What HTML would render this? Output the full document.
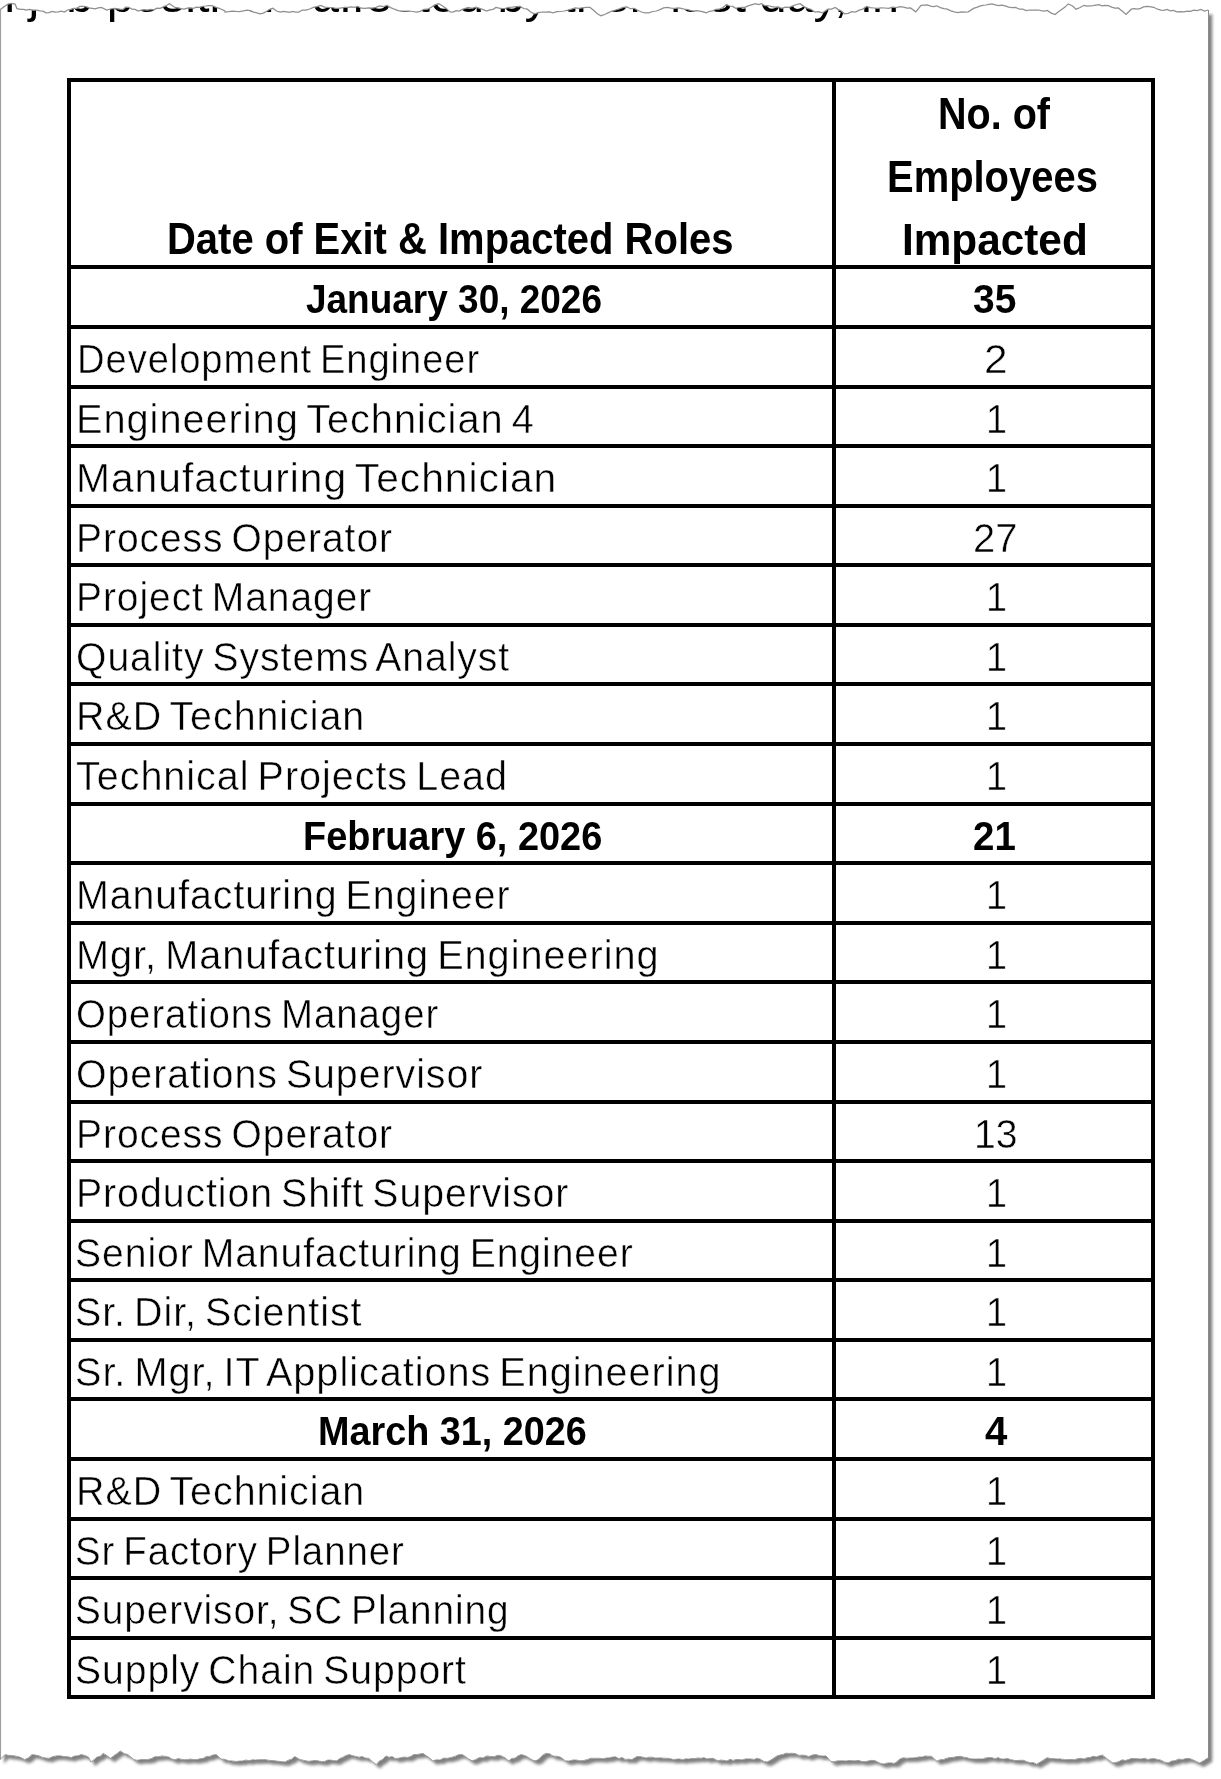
<!DOCTYPE html>
<html><head><meta charset="utf-8">
<style>
html,body{margin:0;padding:0;background:#fff;width:1221px;height:1779px;overflow:hidden}
body{position:relative;font-family:"Liberation Sans",sans-serif;color:#000}
.ln{position:absolute;background:#000}
.t{position:absolute;white-space:nowrap;line-height:1;transform-origin:0 0;color:#000}
</style></head><body>
<svg width="1221" height="1779" style="position:absolute;left:0;top:0">
<defs><filter id="sh" x="-5%" y="-5%" width="110%" height="110%"><feGaussianBlur in="SourceAlpha" stdDeviation="1.6"/><feOffset dx="4" dy="4" result="o"/><feComponentTransfer><feFuncA type="linear" slope="0.5"/></feComponentTransfer><feMerge><feMergeNode/><feMergeNode in="SourceGraphic"/></feMerge></filter></defs>
<polygon points="0.0,9.8 4.0,6.7 8.0,4.1 11.5,3.5 15.0,4.1 17.0,8.6 20.5,9.3 24.0,9.4 25.8,10.1 29.5,9.4 33.1,10.2 36.8,10.1 39.9,10.8 43.0,11.2 46.0,12.9 49.1,12.6 52.2,11.4 55.2,12.0 58.3,11.9 61.4,11.2 64.5,12.0 67.5,10.0 70.6,9.4 73.7,8.3 76.7,8.3 79.8,6.4 82.9,6.4 85.9,6.6 89.0,7.9 92.1,8.3 95.2,8.8 98.2,7.8 101.3,7.4 106.8,10.1 110.5,9.0 114.2,8.3 119.7,9.2 122.8,9.5 125.8,7.2 128.9,7.4 132.0,9.2 135.1,9.4 138.1,11.0 141.2,10.1 144.3,9.7 147.3,10.1 150.6,9.3 153.8,9.8 157.0,8.2 160.2,8.3 163.3,6.9 166.4,5.5 169.4,3.7 175.0,7.4 178.0,7.8 181.1,8.7 184.2,9.2 187.2,8.1 190.3,7.8 193.4,8.3 196.4,7.1 199.5,7.4 202.6,6.4 205.6,6.0 208.7,5.5 211.8,5.5 215.5,7.1 219.2,8.3 224.9,11.0 225.0,12.0 228.7,11.7 232.4,11.2 236.0,11.4 239.7,11.5 243.4,10.9 247.1,10.1 250.3,10.6 253.5,12.1 256.8,12.9 260.0,13.8 263.2,13.1 266.4,11.5 269.7,9.3 272.9,8.3 276.6,11.0 280.2,12.0 283.3,11.3 286.4,11.8 289.5,12.4 292.5,11.3 295.6,12.0 298.7,12.0 302.3,10.0 306.0,10.0 309.7,9.0 313.4,7.4 317.1,6.6 320.8,5.5 324.4,7.1 328.1,7.4 331.8,7.5 335.5,8.3 338.6,8.3 341.6,7.8 344.7,7.4 347.9,7.3 351.2,6.8 354.4,7.3 357.6,6.4 361.3,8.2 365.0,8.3 368.6,7.9 372.3,8.0 376.0,7.4 379.7,6.0 383.4,6.5 387.1,5.5 390.7,7.6 394.4,9.2 398.1,10.7 401.8,11.0 405.5,11.0 409.2,11.0 412.8,11.5 416.5,12.0 420.2,11.4 423.9,9.3 427.6,9.2 431.3,7.3 434.9,4.9 438.6,3.7 442.4,5.8 446.2,8.4 450.0,12.0 453.1,12.1 456.1,10.7 459.2,11.0 462.3,9.4 465.3,8.4 468.4,7.4 472.1,8.3 475.8,7.2 479.5,8.3 483.1,9.6 486.8,11.0 489.9,9.9 493.0,9.3 496.0,7.4 499.1,8.2 502.2,8.6 505.2,8.3 508.9,7.4 512.6,7.2 516.3,6.7 520.0,6.4 523.7,8.5 527.3,9.2 531.0,12.3 534.7,13.8 538.4,12.6 542.1,12.0 545.8,12.0 549.4,11.9 553.1,12.9 556.8,11.7 560.5,11.5 564.2,11.0 567.9,10.1 571.5,9.1 575.2,8.0 578.9,8.3 582.6,7.8 586.3,7.4 590.0,7.4 593.6,10.2 597.3,13.7 601.0,15.7 604.7,14.5 608.4,12.6 612.1,11.0 615.7,10.0 619.4,8.9 623.1,7.4 626.8,6.9 630.5,8.7 634.2,8.3 637.8,10.3 641.5,12.0 645.2,12.9 648.9,12.8 652.6,11.5 656.3,11.0 659.9,9.6 663.6,7.9 667.3,7.4 671.2,8.1 675.0,8.3 678.1,8.0 681.1,8.4 684.2,9.1 687.3,9.5 690.3,10.3 693.4,11.0 696.6,10.7 699.9,11.1 703.1,11.8 706.3,12.9 709.5,11.3 712.8,10.8 716.0,9.3 719.2,9.2 722.9,7.6 726.6,4.6 729.6,6.0 732.7,6.4 735.8,8.3 738.8,7.5 741.9,7.4 745.0,7.4 748.7,5.7 752.3,4.6 755.4,3.6 758.5,4.6 761.6,3.7 764.6,5.5 767.7,5.5 770.8,6.4 774.4,7.0 778.1,6.9 781.8,8.3 785.5,7.1 789.2,7.4 792.9,5.9 796.5,4.5 800.2,3.7 803.9,6.6 807.6,8.3 811.3,9.5 815.0,12.0 818.6,11.6 822.3,12.9 827.9,9.2 831.5,9.1 835.2,7.4 838.3,9.6 841.4,11.0 844.4,13.8 848.1,13.3 851.8,11.7 855.5,12.0 859.2,10.2 862.8,9.1 866.5,6.4 870.2,7.7 873.9,8.0 877.6,8.3 881.3,7.9 884.9,8.0 888.6,8.3 892.4,7.1 896.2,7.6 900.0,6.6 903.5,7.1 907.0,8.0 910.5,7.9 915.8,11.8 921.0,5.3 924.2,5.1 927.3,5.0 930.5,6.1 933.6,6.6 936.8,5.8 940.3,7.6 943.8,8.6 947.3,9.2 950.8,10.9 954.3,11.9 957.8,12.6 961.3,11.9 964.8,12.1 968.3,11.8 973.6,8.4 976.7,7.4 979.7,6.1 982.8,5.3 985.9,5.0 988.9,4.3 992.0,3.9 995.3,4.8 998.6,5.7 1001.9,5.2 1005.2,5.8 1008.7,7.1 1012.2,7.7 1015.7,7.4 1019.2,9.2 1022.7,9.2 1026.2,10.5 1029.2,10.0 1032.2,10.0 1035.2,10.0 1038.2,10.0 1041.2,10.7 1044.2,11.2 1047.2,10.5 1051.2,13.1 1055.1,14.5 1058.4,11.8 1061.7,9.5 1065.0,7.1 1068.2,3.9 1072.2,5.8 1076.1,9.2 1080.1,7.5 1084.0,5.3 1087.0,6.0 1090.0,5.8 1093.0,5.7 1096.0,5.2 1099.0,4.7 1102.0,5.8 1105.0,5.3 1108.3,5.6 1111.6,7.1 1114.9,8.1 1118.2,7.9 1122.1,11.0 1126.1,14.5 1131.3,9.2 1134.4,8.6 1137.5,9.1 1140.5,8.3 1143.6,6.9 1146.7,6.3 1149.7,6.6 1153.7,7.3 1157.6,9.2 1160.8,10.2 1163.9,10.3 1167.1,9.4 1170.2,10.9 1173.4,10.5 1176.9,11.8 1180.4,11.7 1183.9,11.8 1187.2,11.2 1190.5,11.3 1193.8,10.2 1197.1,10.5 1200.8,9.5 1204.5,11.0 1208.2,10.0 1208.2,1757.7 1203.9,1760.6 1199.7,1762.9 1196.2,1761.4 1192.7,1759.7 1189.2,1758.5 1185.7,1758.6 1182.2,1759.7 1178.7,1759.0 1175.1,1760.7 1171.6,1761.1 1168.1,1762.9 1164.6,1762.2 1161.1,1760.2 1157.6,1759.5 1154.3,1758.6 1151.1,1758.8 1147.8,1759.5 1144.5,1758.2 1141.2,1759.1 1137.9,1758.8 1134.6,1758.6 1131.3,1758.5 1128.3,1759.6 1125.2,1760.5 1122.1,1759.8 1119.1,1761.4 1116.0,1762.5 1112.9,1762.9 1109.4,1760.5 1105.9,1757.9 1102.4,1755.0 1099.4,1755.8 1096.3,1756.9 1093.2,1756.3 1090.2,1757.4 1087.1,1757.7 1084.0,1759.0 1080.7,1758.3 1077.4,1758.8 1074.2,1759.7 1070.9,1759.5 1067.5,1759.6 1064.1,1759.7 1060.7,1758.9 1057.4,1759.0 1054.0,1758.7 1050.6,1758.5 1047.2,1757.7 1043.7,1759.9 1040.2,1762.1 1036.7,1764.2 1033.4,1762.6 1030.1,1762.8 1026.8,1761.7 1023.6,1760.3 1020.3,1760.3 1017.0,1760.6 1013.7,1760.3 1010.4,1759.5 1007.3,1758.4 1004.3,1759.1 1001.2,1759.0 998.1,1757.6 995.1,1758.8 992.0,1757.7 988.9,1757.6 985.9,1757.9 982.8,1759.0 979.7,1758.9 976.7,1759.0 973.6,1759.0 970.3,1758.8 967.0,1757.7 963.7,1757.2 960.5,1756.3 957.1,1756.5 953.7,1757.3 950.3,1757.5 946.9,1758.2 943.6,1759.5 940.2,1759.7 936.8,1761.1 931.5,1756.3 928.4,1756.2 925.2,1756.0 922.1,1757.1 918.9,1756.9 915.8,1757.7 912.6,1757.9 909.5,1758.1 906.3,1758.2 903.2,1757.8 900.0,1759.0 894.8,1763.3 891.2,1763.0 887.5,1762.9 883.8,1764.1 880.1,1763.3 875.2,1760.8 871.9,1760.3 868.6,1760.9 865.4,1761.6 862.1,1761.6 858.8,1760.4 855.5,1760.8 852.5,1760.8 849.4,1760.4 846.3,1761.0 843.2,1760.8 840.2,1760.8 837.1,1760.9 834.0,1761.7 831.0,1761.5 826.0,1755.9 822.8,1756.1 819.5,1755.7 816.2,1754.6 812.5,1754.9 808.8,1756.6 805.6,1755.5 802.3,1755.1 799.0,1755.4 795.7,1753.7 792.5,1753.3 789.2,1753.4 786.1,1753.2 783.0,1754.4 780.0,1755.1 776.9,1755.9 773.6,1758.2 770.4,1760.3 767.1,1762.0 763.8,1761.4 760.5,1759.3 757.2,1758.3 754.2,1759.4 751.2,1759.0 748.2,1758.9 745.2,1758.9 742.1,1759.9 739.1,1759.5 736.1,1759.5 733.1,1760.4 730.0,1759.3 727.0,1761.0 724.0,1760.4 721.0,1760.0 717.9,1760.8 713.0,1758.3 710.0,1758.5 707.0,1758.9 704.0,1757.7 700.9,1758.3 697.9,1757.9 694.9,1758.6 691.9,1758.4 688.8,1759.1 685.8,1758.8 682.8,1759.7 679.8,1759.0 676.7,1759.1 673.7,1759.6 670.6,1758.8 667.6,1758.3 664.5,1758.2 661.4,1757.9 658.4,1757.9 655.3,1758.1 652.2,1757.2 649.1,1757.2 646.1,1758.1 643.0,1757.2 639.9,1756.6 636.9,1756.6 631.9,1759.6 628.7,1759.1 625.4,1759.4 622.1,1757.5 618.8,1758.6 615.6,1756.8 612.3,1757.1 609.2,1757.9 606.1,1758.0 603.1,1758.8 600.0,1758.3 594.8,1758.3 591.2,1758.2 587.5,1759.4 583.8,1760.5 580.1,1760.8 576.4,1760.0 572.7,1760.0 569.0,1761.1 565.4,1760.8 560.4,1757.1 556.8,1756.3 553.1,1756.0 549.4,1753.7 545.7,1753.4 542.4,1755.4 539.1,1758.9 535.9,1760.8 532.2,1760.0 528.5,1757.6 524.8,1755.5 521.1,1754.6 518.1,1755.8 515.0,1758.2 511.9,1758.4 508.8,1760.8 505.2,1757.9 501.5,1755.9 497.8,1755.2 494.1,1756.7 490.4,1756.4 486.7,1755.9 483.0,1758.0 479.4,1757.5 475.7,1759.6 472.0,1760.8 468.7,1759.0 465.4,1756.4 462.2,1754.6 458.5,1754.7 454.8,1756.4 451.1,1757.5 447.4,1758.3 443.7,1758.1 440.0,1760.0 436.4,1759.8 432.7,1760.8 429.4,1757.8 426.1,1755.6 422.9,1753.4 419.8,1754.0 416.7,1754.5 413.6,1754.6 410.6,1756.5 407.5,1757.4 404.4,1757.1 401.4,1757.5 398.3,1758.3 395.2,1758.5 392.1,1756.6 389.1,1757.3 386.0,1755.9 382.7,1759.4 379.4,1761.0 376.2,1764.5 372.5,1761.7 368.8,1758.3 365.5,1758.1 362.2,1756.5 359.0,1757.2 355.7,1756.4 352.4,1755.6 349.1,1754.6 346.1,1755.4 343.0,1757.2 339.9,1758.5 336.9,1760.8 333.8,1760.7 330.7,1760.1 327.6,1760.1 324.6,1761.4 321.5,1761.6 318.4,1760.9 315.4,1760.4 312.3,1760.8 309.2,1761.3 306.1,1760.9 303.1,1760.2 300.0,1759.6 294.8,1756.6 291.6,1759.2 288.3,1760.2 285.0,1762.0 280.1,1761.5 276.4,1761.1 272.7,1760.5 269.0,1760.4 265.4,1759.6 262.1,1759.7 258.8,1759.7 255.5,1760.0 252.3,1759.8 249.0,1760.7 245.7,1760.0 242.4,1761.0 239.1,1761.1 235.9,1761.5 232.2,1760.9 228.5,1760.8 224.8,1759.3 221.1,1759.1 216.2,1754.6 212.9,1755.0 209.7,1756.4 206.4,1756.4 203.1,1758.4 199.8,1758.8 196.6,1759.6 193.5,1759.5 190.4,1759.1 187.3,1759.5 184.3,1759.7 181.2,1759.2 178.1,1758.6 175.1,1759.7 172.0,1759.1 168.7,1757.1 165.4,1756.4 162.2,1755.9 158.5,1756.7 154.8,1756.8 151.1,1758.7 147.4,1759.6 144.0,1759.6 140.7,1759.6 137.3,1760.3 133.9,1759.6 130.8,1757.0 127.8,1754.6 124.1,1753.5 120.4,1750.9 117.1,1753.5 113.8,1755.8 110.6,1758.3 106.9,1755.6 103.2,1753.4 100.1,1756.3 97.1,1757.0 94.0,1759.7 90.9,1762.0 88.5,1757.1 84.8,1755.4 81.1,1754.6 77.8,1755.8 74.5,1756.1 71.3,1757.6 67.6,1756.7 63.9,1756.6 60.2,1755.8 56.5,1755.9 52.8,1756.6 49.1,1758.3 45.9,1758.1 42.6,1757.4 39.3,1755.9 35.6,1755.1 31.9,1754.6 28.3,1757.9 24.6,1759.6 19.7,1757.1 14.7,1755.9 11.5,1755.5 8.2,1755.3 4.9,1754.6 0.0,1759.6" fill="#fff" filter="url(#sh)"/>
</svg>
<div style="position:absolute;left:0;top:0;width:1221px;height:40px;overflow:hidden"><div class="t" style="left:-12.00px;top:-27.58px;font-size:48px;transform:scaleX(1.0120)">n job positions affected by their last day, in</div></div>
<div class="ln" style="left:67px;top:78px;width:1088px;height:4px"></div>
<div class="ln" style="left:67px;top:78px;width:4px;height:1621px"></div>
<div class="ln" style="left:1151px;top:78px;width:4px;height:1621px"></div>
<div class="ln" style="left:832px;top:78px;width:4px;height:1621px"></div>
<div class="ln" style="left:67px;top:265px;width:1088px;height:4px"></div>
<div class="ln" style="left:67px;top:325px;width:1088px;height:4px"></div>
<div class="ln" style="left:67px;top:385px;width:1088px;height:4px"></div>
<div class="ln" style="left:67px;top:444px;width:1088px;height:4px"></div>
<div class="ln" style="left:67px;top:504px;width:1088px;height:4px"></div>
<div class="ln" style="left:67px;top:563px;width:1088px;height:4px"></div>
<div class="ln" style="left:67px;top:623px;width:1088px;height:4px"></div>
<div class="ln" style="left:67px;top:682px;width:1088px;height:4px"></div>
<div class="ln" style="left:67px;top:742px;width:1088px;height:4px"></div>
<div class="ln" style="left:67px;top:802px;width:1088px;height:4px"></div>
<div class="ln" style="left:67px;top:861px;width:1088px;height:4px"></div>
<div class="ln" style="left:67px;top:921px;width:1088px;height:4px"></div>
<div class="ln" style="left:67px;top:980px;width:1088px;height:4px"></div>
<div class="ln" style="left:67px;top:1040px;width:1088px;height:4px"></div>
<div class="ln" style="left:67px;top:1100px;width:1088px;height:4px"></div>
<div class="ln" style="left:67px;top:1159px;width:1088px;height:4px"></div>
<div class="ln" style="left:67px;top:1219px;width:1088px;height:4px"></div>
<div class="ln" style="left:67px;top:1278px;width:1088px;height:4px"></div>
<div class="ln" style="left:67px;top:1338px;width:1088px;height:4px"></div>
<div class="ln" style="left:67px;top:1397px;width:1088px;height:4px"></div>
<div class="ln" style="left:67px;top:1457px;width:1088px;height:4px"></div>
<div class="ln" style="left:67px;top:1517px;width:1088px;height:4px"></div>
<div class="ln" style="left:67px;top:1576px;width:1088px;height:4px"></div>
<div class="ln" style="left:67px;top:1636px;width:1088px;height:4px"></div>
<div class="ln" style="left:67px;top:1695px;width:1088px;height:4px"></div>
<div class="t" style="left:166.87px;top:216.70px;font-weight:700;font-size:44px;letter-spacing:0px;word-spacing:0px;transform:scaleX(0.9086)">Date of Exit &amp; Impacted Roles</div>
<div class="t" style="left:937.90px;top:92.00px;font-weight:700;font-size:44px;letter-spacing:0px;word-spacing:0px;transform:scaleX(0.8984)">No. of</div>
<div class="t" style="left:887.28px;top:154.50px;font-weight:700;font-size:44px;letter-spacing:0px;word-spacing:0px;transform:scaleX(0.9075)">Employees</div>
<div class="t" style="left:902.32px;top:217.50px;font-weight:700;font-size:44px;letter-spacing:0px;word-spacing:0px;transform:scaleX(0.9615)">Impacted</div>
<div class="t" style="left:305.91px;top:277.60px;font-weight:700;font-size:41.5px;letter-spacing:0px;word-spacing:0px;transform:scaleX(0.8909)">January 30, 2026</div>
<div class="t" style="left:972.76px;top:277.60px;font-weight:700;font-size:41.5px;letter-spacing:0px;word-spacing:0px;transform:scaleX(0.9386)">35</div>
<div class="t" style="left:76.94px;top:337.60px;font-weight:400;font-size:41.5px;letter-spacing:1.0px;word-spacing:-4px;transform:scaleX(0.9200);-webkit-text-stroke:0.5px #fff">Development Engineer</div>
<div class="t" style="left:984.36px;top:337.60px;font-weight:400;font-size:41.5px;letter-spacing:0px;word-spacing:0px;transform:scaleX(1.0211);-webkit-text-stroke:0.5px #fff">2</div>
<div class="t" style="left:76.13px;top:397.60px;font-weight:400;font-size:41.5px;letter-spacing:1.0px;word-spacing:-4px;transform:scaleX(0.9578);-webkit-text-stroke:0.5px #fff">Engineering Technician 4</div>
<div class="t" style="left:986.27px;top:397.60px;font-weight:400;font-size:41.5px;letter-spacing:0px;word-spacing:0px;transform:scaleX(0.9111);-webkit-text-stroke:0.5px #fff">1</div>
<div class="t" style="left:75.55px;top:456.60px;font-weight:400;font-size:41.5px;letter-spacing:1.0px;word-spacing:-4px;transform:scaleX(0.9824);-webkit-text-stroke:0.5px #fff">Manufacturing Technician</div>
<div class="t" style="left:986.27px;top:456.60px;font-weight:400;font-size:41.5px;letter-spacing:0px;word-spacing:0px;transform:scaleX(0.9111);-webkit-text-stroke:0.5px #fff">1</div>
<div class="t" style="left:76.18px;top:516.60px;font-weight:400;font-size:41.5px;letter-spacing:1.0px;word-spacing:-4px;transform:scaleX(0.9399);-webkit-text-stroke:0.5px #fff">Process Operator</div>
<div class="t" style="left:972.68px;top:516.60px;font-weight:400;font-size:41.5px;letter-spacing:0px;word-spacing:0px;transform:scaleX(0.9619);-webkit-text-stroke:0.5px #fff">27</div>
<div class="t" style="left:76.18px;top:575.60px;font-weight:400;font-size:41.5px;letter-spacing:1.0px;word-spacing:-4px;transform:scaleX(0.9389);-webkit-text-stroke:0.5px #fff">Project Manager</div>
<div class="t" style="left:986.27px;top:575.60px;font-weight:400;font-size:41.5px;letter-spacing:0px;word-spacing:0px;transform:scaleX(0.9111);-webkit-text-stroke:0.5px #fff">1</div>
<div class="t" style="left:75.91px;top:635.60px;font-weight:400;font-size:41.5px;letter-spacing:1.0px;word-spacing:-4px;transform:scaleX(0.9435);-webkit-text-stroke:0.5px #fff">Quality Systems Analyst</div>
<div class="t" style="left:986.27px;top:635.60px;font-weight:400;font-size:41.5px;letter-spacing:0px;word-spacing:0px;transform:scaleX(0.9111);-webkit-text-stroke:0.5px #fff">1</div>
<div class="t" style="left:76.15px;top:694.60px;font-weight:400;font-size:41.5px;letter-spacing:1.0px;word-spacing:-4px;transform:scaleX(0.9497);-webkit-text-stroke:0.5px #fff">R&amp;D Technician</div>
<div class="t" style="left:986.27px;top:694.60px;font-weight:400;font-size:41.5px;letter-spacing:0px;word-spacing:0px;transform:scaleX(0.9111);-webkit-text-stroke:0.5px #fff">1</div>
<div class="t" style="left:75.65px;top:754.60px;font-weight:400;font-size:41.5px;letter-spacing:1.0px;word-spacing:-4px;transform:scaleX(0.9530);-webkit-text-stroke:0.5px #fff">Technical Projects Lead</div>
<div class="t" style="left:986.27px;top:754.60px;font-weight:400;font-size:41.5px;letter-spacing:0px;word-spacing:0px;transform:scaleX(0.9111);-webkit-text-stroke:0.5px #fff">1</div>
<div class="t" style="left:302.96px;top:814.60px;font-weight:700;font-size:41.5px;letter-spacing:0px;word-spacing:0px;transform:scaleX(0.9136)">February 6, 2026</div>
<div class="t" style="left:973.27px;top:814.60px;font-weight:700;font-size:41.5px;letter-spacing:0px;word-spacing:0px;transform:scaleX(0.9273)">21</div>
<div class="t" style="left:75.66px;top:873.60px;font-weight:400;font-size:41.5px;letter-spacing:1.0px;word-spacing:-4px;transform:scaleX(0.9476);-webkit-text-stroke:0.5px #fff">Manufacturing Engineer</div>
<div class="t" style="left:986.27px;top:873.60px;font-weight:400;font-size:41.5px;letter-spacing:0px;word-spacing:0px;transform:scaleX(0.9111);-webkit-text-stroke:0.5px #fff">1</div>
<div class="t" style="left:75.63px;top:933.60px;font-weight:400;font-size:41.5px;letter-spacing:1.0px;word-spacing:-4px;transform:scaleX(0.9561);-webkit-text-stroke:0.5px #fff">Mgr, Manufacturing Engineering</div>
<div class="t" style="left:986.27px;top:933.60px;font-weight:400;font-size:41.5px;letter-spacing:0px;word-spacing:0px;transform:scaleX(0.9111);-webkit-text-stroke:0.5px #fff">1</div>
<div class="t" style="left:76.05px;top:992.60px;font-weight:400;font-size:41.5px;letter-spacing:1.0px;word-spacing:-4px;transform:scaleX(0.9257);-webkit-text-stroke:0.5px #fff">Operations Manager</div>
<div class="t" style="left:986.27px;top:992.60px;font-weight:400;font-size:41.5px;letter-spacing:0px;word-spacing:0px;transform:scaleX(0.9111);-webkit-text-stroke:0.5px #fff">1</div>
<div class="t" style="left:76.01px;top:1052.60px;font-weight:400;font-size:41.5px;letter-spacing:1.0px;word-spacing:-4px;transform:scaleX(0.9474);-webkit-text-stroke:0.5px #fff">Operations Supervisor</div>
<div class="t" style="left:986.27px;top:1052.60px;font-weight:400;font-size:41.5px;letter-spacing:0px;word-spacing:0px;transform:scaleX(0.9111);-webkit-text-stroke:0.5px #fff">1</div>
<div class="t" style="left:76.18px;top:1112.60px;font-weight:400;font-size:41.5px;letter-spacing:1.0px;word-spacing:-4px;transform:scaleX(0.9399);-webkit-text-stroke:0.5px #fff">Process Operator</div>
<div class="t" style="left:973.77px;top:1112.60px;font-weight:400;font-size:41.5px;letter-spacing:0px;word-spacing:0px;transform:scaleX(0.9439);-webkit-text-stroke:0.5px #fff">13</div>
<div class="t" style="left:76.16px;top:1171.60px;font-weight:400;font-size:41.5px;letter-spacing:1.0px;word-spacing:-4px;transform:scaleX(0.9453);-webkit-text-stroke:0.5px #fff">Production Shift Supervisor</div>
<div class="t" style="left:986.27px;top:1171.60px;font-weight:400;font-size:41.5px;letter-spacing:0px;word-spacing:0px;transform:scaleX(0.9111);-webkit-text-stroke:0.5px #fff">1</div>
<div class="t" style="left:75.42px;top:1231.60px;font-weight:400;font-size:41.5px;letter-spacing:1.0px;word-spacing:-4px;transform:scaleX(0.9419);-webkit-text-stroke:0.5px #fff">Senior Manufacturing Engineer</div>
<div class="t" style="left:986.27px;top:1231.60px;font-weight:400;font-size:41.5px;letter-spacing:0px;word-spacing:0px;transform:scaleX(0.9111);-webkit-text-stroke:0.5px #fff">1</div>
<div class="t" style="left:75.40px;top:1290.60px;font-weight:400;font-size:41.5px;letter-spacing:1.0px;word-spacing:-4px;transform:scaleX(0.9490);-webkit-text-stroke:0.5px #fff">Sr. Dir, Scientist</div>
<div class="t" style="left:986.27px;top:1290.60px;font-weight:400;font-size:41.5px;letter-spacing:0px;word-spacing:0px;transform:scaleX(0.9111);-webkit-text-stroke:0.5px #fff">1</div>
<div class="t" style="left:75.39px;top:1350.60px;font-weight:400;font-size:41.5px;letter-spacing:1.0px;word-spacing:-4px;transform:scaleX(0.9554);-webkit-text-stroke:0.5px #fff">Sr. Mgr, IT Applications Engineering</div>
<div class="t" style="left:986.27px;top:1350.60px;font-weight:400;font-size:41.5px;letter-spacing:0px;word-spacing:0px;transform:scaleX(0.9111);-webkit-text-stroke:0.5px #fff">1</div>
<div class="t" style="left:318.37px;top:1409.60px;font-weight:700;font-size:41.5px;letter-spacing:0px;word-spacing:0px;transform:scaleX(0.9103)">March 31, 2026</div>
<div class="t" style="left:984.83px;top:1409.60px;font-weight:700;font-size:41.5px;letter-spacing:0px;word-spacing:0px;transform:scaleX(0.9682)">4</div>
<div class="t" style="left:76.15px;top:1469.60px;font-weight:400;font-size:41.5px;letter-spacing:1.0px;word-spacing:-4px;transform:scaleX(0.9497);-webkit-text-stroke:0.5px #fff">R&amp;D Technician</div>
<div class="t" style="left:986.27px;top:1469.60px;font-weight:400;font-size:41.5px;letter-spacing:0px;word-spacing:0px;transform:scaleX(0.9111);-webkit-text-stroke:0.5px #fff">1</div>
<div class="t" style="left:75.45px;top:1529.60px;font-weight:400;font-size:41.5px;letter-spacing:1.0px;word-spacing:-4px;transform:scaleX(0.9266);-webkit-text-stroke:0.5px #fff">Sr Factory Planner</div>
<div class="t" style="left:986.27px;top:1529.60px;font-weight:400;font-size:41.5px;letter-spacing:0px;word-spacing:0px;transform:scaleX(0.9111);-webkit-text-stroke:0.5px #fff">1</div>
<div class="t" style="left:75.43px;top:1588.60px;font-weight:400;font-size:41.5px;letter-spacing:1.0px;word-spacing:-4px;transform:scaleX(0.9349);-webkit-text-stroke:0.5px #fff">Supervisor, SC Planning</div>
<div class="t" style="left:986.27px;top:1588.60px;font-weight:400;font-size:41.5px;letter-spacing:0px;word-spacing:0px;transform:scaleX(0.9111);-webkit-text-stroke:0.5px #fff">1</div>
<div class="t" style="left:75.41px;top:1648.60px;font-weight:400;font-size:41.5px;letter-spacing:1.0px;word-spacing:-4px;transform:scaleX(0.9426);-webkit-text-stroke:0.5px #fff">Supply Chain Support</div>
<div class="t" style="left:986.27px;top:1648.60px;font-weight:400;font-size:41.5px;letter-spacing:0px;word-spacing:0px;transform:scaleX(0.9111);-webkit-text-stroke:0.5px #fff">1</div>
<svg width="1221" height="1779" style="position:absolute;left:0;top:0">
<polygon points="0,0 1221,0 1221,10.0 1208.2,10.0 1204.5,11.0 1200.8,9.5 1197.1,10.5 1193.8,10.2 1190.5,11.3 1187.2,11.2 1183.9,11.8 1180.4,11.7 1176.9,11.8 1173.4,10.5 1170.2,10.9 1167.1,9.4 1163.9,10.3 1160.8,10.2 1157.6,9.2 1153.7,7.3 1149.7,6.6 1146.7,6.3 1143.6,6.9 1140.5,8.3 1137.5,9.1 1134.4,8.6 1131.3,9.2 1126.1,14.5 1122.1,11.0 1118.2,7.9 1114.9,8.1 1111.6,7.1 1108.3,5.6 1105.0,5.3 1102.0,5.8 1099.0,4.7 1096.0,5.2 1093.0,5.7 1090.0,5.8 1087.0,6.0 1084.0,5.3 1080.1,7.5 1076.1,9.2 1072.2,5.8 1068.2,3.9 1065.0,7.1 1061.7,9.5 1058.4,11.8 1055.1,14.5 1051.2,13.1 1047.2,10.5 1044.2,11.2 1041.2,10.7 1038.2,10.0 1035.2,10.0 1032.2,10.0 1029.2,10.0 1026.2,10.5 1022.7,9.2 1019.2,9.2 1015.7,7.4 1012.2,7.7 1008.7,7.1 1005.2,5.8 1001.9,5.2 998.6,5.7 995.3,4.8 992.0,3.9 988.9,4.3 985.9,5.0 982.8,5.3 979.7,6.1 976.7,7.4 973.6,8.4 968.3,11.8 964.8,12.1 961.3,11.9 957.8,12.6 954.3,11.9 950.8,10.9 947.3,9.2 943.8,8.6 940.3,7.6 936.8,5.8 933.6,6.6 930.5,6.1 927.3,5.0 924.2,5.1 921.0,5.3 915.8,11.8 910.5,7.9 907.0,8.0 903.5,7.1 900.0,6.6 896.2,7.6 892.4,7.1 888.6,8.3 884.9,8.0 881.3,7.9 877.6,8.3 873.9,8.0 870.2,7.7 866.5,6.4 862.8,9.1 859.2,10.2 855.5,12.0 851.8,11.7 848.1,13.3 844.4,13.8 841.4,11.0 838.3,9.6 835.2,7.4 831.5,9.1 827.9,9.2 822.3,12.9 818.6,11.6 815.0,12.0 811.3,9.5 807.6,8.3 803.9,6.6 800.2,3.7 796.5,4.5 792.9,5.9 789.2,7.4 785.5,7.1 781.8,8.3 778.1,6.9 774.4,7.0 770.8,6.4 767.7,5.5 764.6,5.5 761.6,3.7 758.5,4.6 755.4,3.6 752.3,4.6 748.7,5.7 745.0,7.4 741.9,7.4 738.8,7.5 735.8,8.3 732.7,6.4 729.6,6.0 726.6,4.6 722.9,7.6 719.2,9.2 716.0,9.3 712.8,10.8 709.5,11.3 706.3,12.9 703.1,11.8 699.9,11.1 696.6,10.7 693.4,11.0 690.3,10.3 687.3,9.5 684.2,9.1 681.1,8.4 678.1,8.0 675.0,8.3 671.2,8.1 667.3,7.4 663.6,7.9 659.9,9.6 656.3,11.0 652.6,11.5 648.9,12.8 645.2,12.9 641.5,12.0 637.8,10.3 634.2,8.3 630.5,8.7 626.8,6.9 623.1,7.4 619.4,8.9 615.7,10.0 612.1,11.0 608.4,12.6 604.7,14.5 601.0,15.7 597.3,13.7 593.6,10.2 590.0,7.4 586.3,7.4 582.6,7.8 578.9,8.3 575.2,8.0 571.5,9.1 567.9,10.1 564.2,11.0 560.5,11.5 556.8,11.7 553.1,12.9 549.4,11.9 545.8,12.0 542.1,12.0 538.4,12.6 534.7,13.8 531.0,12.3 527.3,9.2 523.7,8.5 520.0,6.4 516.3,6.7 512.6,7.2 508.9,7.4 505.2,8.3 502.2,8.6 499.1,8.2 496.0,7.4 493.0,9.3 489.9,9.9 486.8,11.0 483.1,9.6 479.5,8.3 475.8,7.2 472.1,8.3 468.4,7.4 465.3,8.4 462.3,9.4 459.2,11.0 456.1,10.7 453.1,12.1 450.0,12.0 446.2,8.4 442.4,5.8 438.6,3.7 434.9,4.9 431.3,7.3 427.6,9.2 423.9,9.3 420.2,11.4 416.5,12.0 412.8,11.5 409.2,11.0 405.5,11.0 401.8,11.0 398.1,10.7 394.4,9.2 390.7,7.6 387.1,5.5 383.4,6.5 379.7,6.0 376.0,7.4 372.3,8.0 368.6,7.9 365.0,8.3 361.3,8.2 357.6,6.4 354.4,7.3 351.2,6.8 347.9,7.3 344.7,7.4 341.6,7.8 338.6,8.3 335.5,8.3 331.8,7.5 328.1,7.4 324.4,7.1 320.8,5.5 317.1,6.6 313.4,7.4 309.7,9.0 306.0,10.0 302.3,10.0 298.7,12.0 295.6,12.0 292.5,11.3 289.5,12.4 286.4,11.8 283.3,11.3 280.2,12.0 276.6,11.0 272.9,8.3 269.7,9.3 266.4,11.5 263.2,13.1 260.0,13.8 256.8,12.9 253.5,12.1 250.3,10.6 247.1,10.1 243.4,10.9 239.7,11.5 236.0,11.4 232.4,11.2 228.7,11.7 225.0,12.0 224.9,11.0 219.2,8.3 215.5,7.1 211.8,5.5 208.7,5.5 205.6,6.0 202.6,6.4 199.5,7.4 196.4,7.1 193.4,8.3 190.3,7.8 187.2,8.1 184.2,9.2 181.1,8.7 178.0,7.8 175.0,7.4 169.4,3.7 166.4,5.5 163.3,6.9 160.2,8.3 157.0,8.2 153.8,9.8 150.6,9.3 147.3,10.1 144.3,9.7 141.2,10.1 138.1,11.0 135.1,9.4 132.0,9.2 128.9,7.4 125.8,7.2 122.8,9.5 119.7,9.2 114.2,8.3 110.5,9.0 106.8,10.1 101.3,7.4 98.2,7.8 95.2,8.8 92.1,8.3 89.0,7.9 85.9,6.6 82.9,6.4 79.8,6.4 76.7,8.3 73.7,8.3 70.6,9.4 67.5,10.0 64.5,12.0 61.4,11.2 58.3,11.9 55.2,12.0 52.2,11.4 49.1,12.6 46.0,12.9 43.0,11.2 39.9,10.8 36.8,10.1 33.1,10.2 29.5,9.4 25.8,10.1 24.0,9.4 20.5,9.3 17.0,8.6 15.0,4.1 11.5,3.5 8.0,4.1 4.0,6.7 0.0,9.8" fill="#fff"/>
<polyline points="0.0,9.8 4.0,6.7 8.0,4.1 11.5,3.5 15.0,4.1 17.0,8.6 20.5,9.3 24.0,9.4 25.8,10.1 29.5,9.4 33.1,10.2 36.8,10.1 39.9,10.8 43.0,11.2 46.0,12.9 49.1,12.6 52.2,11.4 55.2,12.0 58.3,11.9 61.4,11.2 64.5,12.0 67.5,10.0 70.6,9.4 73.7,8.3 76.7,8.3 79.8,6.4 82.9,6.4 85.9,6.6 89.0,7.9 92.1,8.3 95.2,8.8 98.2,7.8 101.3,7.4 106.8,10.1 110.5,9.0 114.2,8.3 119.7,9.2 122.8,9.5 125.8,7.2 128.9,7.4 132.0,9.2 135.1,9.4 138.1,11.0 141.2,10.1 144.3,9.7 147.3,10.1 150.6,9.3 153.8,9.8 157.0,8.2 160.2,8.3 163.3,6.9 166.4,5.5 169.4,3.7 175.0,7.4 178.0,7.8 181.1,8.7 184.2,9.2 187.2,8.1 190.3,7.8 193.4,8.3 196.4,7.1 199.5,7.4 202.6,6.4 205.6,6.0 208.7,5.5 211.8,5.5 215.5,7.1 219.2,8.3 224.9,11.0 225.0,12.0 228.7,11.7 232.4,11.2 236.0,11.4 239.7,11.5 243.4,10.9 247.1,10.1 250.3,10.6 253.5,12.1 256.8,12.9 260.0,13.8 263.2,13.1 266.4,11.5 269.7,9.3 272.9,8.3 276.6,11.0 280.2,12.0 283.3,11.3 286.4,11.8 289.5,12.4 292.5,11.3 295.6,12.0 298.7,12.0 302.3,10.0 306.0,10.0 309.7,9.0 313.4,7.4 317.1,6.6 320.8,5.5 324.4,7.1 328.1,7.4 331.8,7.5 335.5,8.3 338.6,8.3 341.6,7.8 344.7,7.4 347.9,7.3 351.2,6.8 354.4,7.3 357.6,6.4 361.3,8.2 365.0,8.3 368.6,7.9 372.3,8.0 376.0,7.4 379.7,6.0 383.4,6.5 387.1,5.5 390.7,7.6 394.4,9.2 398.1,10.7 401.8,11.0 405.5,11.0 409.2,11.0 412.8,11.5 416.5,12.0 420.2,11.4 423.9,9.3 427.6,9.2 431.3,7.3 434.9,4.9 438.6,3.7 442.4,5.8 446.2,8.4 450.0,12.0 453.1,12.1 456.1,10.7 459.2,11.0 462.3,9.4 465.3,8.4 468.4,7.4 472.1,8.3 475.8,7.2 479.5,8.3 483.1,9.6 486.8,11.0 489.9,9.9 493.0,9.3 496.0,7.4 499.1,8.2 502.2,8.6 505.2,8.3 508.9,7.4 512.6,7.2 516.3,6.7 520.0,6.4 523.7,8.5 527.3,9.2 531.0,12.3 534.7,13.8 538.4,12.6 542.1,12.0 545.8,12.0 549.4,11.9 553.1,12.9 556.8,11.7 560.5,11.5 564.2,11.0 567.9,10.1 571.5,9.1 575.2,8.0 578.9,8.3 582.6,7.8 586.3,7.4 590.0,7.4 593.6,10.2 597.3,13.7 601.0,15.7 604.7,14.5 608.4,12.6 612.1,11.0 615.7,10.0 619.4,8.9 623.1,7.4 626.8,6.9 630.5,8.7 634.2,8.3 637.8,10.3 641.5,12.0 645.2,12.9 648.9,12.8 652.6,11.5 656.3,11.0 659.9,9.6 663.6,7.9 667.3,7.4 671.2,8.1 675.0,8.3 678.1,8.0 681.1,8.4 684.2,9.1 687.3,9.5 690.3,10.3 693.4,11.0 696.6,10.7 699.9,11.1 703.1,11.8 706.3,12.9 709.5,11.3 712.8,10.8 716.0,9.3 719.2,9.2 722.9,7.6 726.6,4.6 729.6,6.0 732.7,6.4 735.8,8.3 738.8,7.5 741.9,7.4 745.0,7.4 748.7,5.7 752.3,4.6 755.4,3.6 758.5,4.6 761.6,3.7 764.6,5.5 767.7,5.5 770.8,6.4 774.4,7.0 778.1,6.9 781.8,8.3 785.5,7.1 789.2,7.4 792.9,5.9 796.5,4.5 800.2,3.7 803.9,6.6 807.6,8.3 811.3,9.5 815.0,12.0 818.6,11.6 822.3,12.9 827.9,9.2 831.5,9.1 835.2,7.4 838.3,9.6 841.4,11.0 844.4,13.8 848.1,13.3 851.8,11.7 855.5,12.0 859.2,10.2 862.8,9.1 866.5,6.4 870.2,7.7 873.9,8.0 877.6,8.3 881.3,7.9 884.9,8.0 888.6,8.3 892.4,7.1 896.2,7.6 900.0,6.6 903.5,7.1 907.0,8.0 910.5,7.9 915.8,11.8 921.0,5.3 924.2,5.1 927.3,5.0 930.5,6.1 933.6,6.6 936.8,5.8 940.3,7.6 943.8,8.6 947.3,9.2 950.8,10.9 954.3,11.9 957.8,12.6 961.3,11.9 964.8,12.1 968.3,11.8 973.6,8.4 976.7,7.4 979.7,6.1 982.8,5.3 985.9,5.0 988.9,4.3 992.0,3.9 995.3,4.8 998.6,5.7 1001.9,5.2 1005.2,5.8 1008.7,7.1 1012.2,7.7 1015.7,7.4 1019.2,9.2 1022.7,9.2 1026.2,10.5 1029.2,10.0 1032.2,10.0 1035.2,10.0 1038.2,10.0 1041.2,10.7 1044.2,11.2 1047.2,10.5 1051.2,13.1 1055.1,14.5 1058.4,11.8 1061.7,9.5 1065.0,7.1 1068.2,3.9 1072.2,5.8 1076.1,9.2 1080.1,7.5 1084.0,5.3 1087.0,6.0 1090.0,5.8 1093.0,5.7 1096.0,5.2 1099.0,4.7 1102.0,5.8 1105.0,5.3 1108.3,5.6 1111.6,7.1 1114.9,8.1 1118.2,7.9 1122.1,11.0 1126.1,14.5 1131.3,9.2 1134.4,8.6 1137.5,9.1 1140.5,8.3 1143.6,6.9 1146.7,6.3 1149.7,6.6 1153.7,7.3 1157.6,9.2 1160.8,10.2 1163.9,10.3 1167.1,9.4 1170.2,10.9 1173.4,10.5 1176.9,11.8 1180.4,11.7 1183.9,11.8 1187.2,11.2 1190.5,11.3 1193.8,10.2 1197.1,10.5 1200.8,9.5 1204.5,11.0 1208.2,10.0" fill="none" stroke="#8f8f8f" stroke-width="1.25"/>
<line x1="0.5" y1="9.8" x2="0.5" y2="1759.6" stroke="#a0a0a0" stroke-width="1.2"/>
<polyline points="0.0,1759.6 4.9,1754.6 8.2,1755.3 11.5,1755.5 14.7,1755.9 19.7,1757.1 24.6,1759.6 28.3,1757.9 31.9,1754.6 35.6,1755.1 39.3,1755.9 42.6,1757.4 45.9,1758.1 49.1,1758.3 52.8,1756.6 56.5,1755.9 60.2,1755.8 63.9,1756.6 67.6,1756.7 71.3,1757.6 74.5,1756.1 77.8,1755.8 81.1,1754.6 84.8,1755.4 88.5,1757.1 90.9,1762.0 94.0,1759.7 97.1,1757.0 100.1,1756.3 103.2,1753.4 106.9,1755.6 110.6,1758.3 113.8,1755.8 117.1,1753.5 120.4,1750.9 124.1,1753.5 127.8,1754.6 130.8,1757.0 133.9,1759.6 137.3,1760.3 140.7,1759.6 144.0,1759.6 147.4,1759.6 151.1,1758.7 154.8,1756.8 158.5,1756.7 162.2,1755.9 165.4,1756.4 168.7,1757.1 172.0,1759.1 175.1,1759.7 178.1,1758.6 181.2,1759.2 184.3,1759.7 187.3,1759.5 190.4,1759.1 193.5,1759.5 196.6,1759.6 199.8,1758.8 203.1,1758.4 206.4,1756.4 209.7,1756.4 212.9,1755.0 216.2,1754.6 221.1,1759.1 224.8,1759.3 228.5,1760.8 232.2,1760.9 235.9,1761.5 239.1,1761.1 242.4,1761.0 245.7,1760.0 249.0,1760.7 252.3,1759.8 255.5,1760.0 258.8,1759.7 262.1,1759.7 265.4,1759.6 269.0,1760.4 272.7,1760.5 276.4,1761.1 280.1,1761.5 285.0,1762.0 288.3,1760.2 291.6,1759.2 294.8,1756.6 300.0,1759.6 303.1,1760.2 306.1,1760.9 309.2,1761.3 312.3,1760.8 315.4,1760.4 318.4,1760.9 321.5,1761.6 324.6,1761.4 327.6,1760.1 330.7,1760.1 333.8,1760.7 336.9,1760.8 339.9,1758.5 343.0,1757.2 346.1,1755.4 349.1,1754.6 352.4,1755.6 355.7,1756.4 359.0,1757.2 362.2,1756.5 365.5,1758.1 368.8,1758.3 372.5,1761.7 376.2,1764.5 379.4,1761.0 382.7,1759.4 386.0,1755.9 389.1,1757.3 392.1,1756.6 395.2,1758.5 398.3,1758.3 401.4,1757.5 404.4,1757.1 407.5,1757.4 410.6,1756.5 413.6,1754.6 416.7,1754.5 419.8,1754.0 422.9,1753.4 426.1,1755.6 429.4,1757.8 432.7,1760.8 436.4,1759.8 440.0,1760.0 443.7,1758.1 447.4,1758.3 451.1,1757.5 454.8,1756.4 458.5,1754.7 462.2,1754.6 465.4,1756.4 468.7,1759.0 472.0,1760.8 475.7,1759.6 479.4,1757.5 483.0,1758.0 486.7,1755.9 490.4,1756.4 494.1,1756.7 497.8,1755.2 501.5,1755.9 505.2,1757.9 508.8,1760.8 511.9,1758.4 515.0,1758.2 518.1,1755.8 521.1,1754.6 524.8,1755.5 528.5,1757.6 532.2,1760.0 535.9,1760.8 539.1,1758.9 542.4,1755.4 545.7,1753.4 549.4,1753.7 553.1,1756.0 556.8,1756.3 560.4,1757.1 565.4,1760.8 569.0,1761.1 572.7,1760.0 576.4,1760.0 580.1,1760.8 583.8,1760.5 587.5,1759.4 591.2,1758.2 594.8,1758.3 600.0,1758.3 603.1,1758.8 606.1,1758.0 609.2,1757.9 612.3,1757.1 615.6,1756.8 618.8,1758.6 622.1,1757.5 625.4,1759.4 628.7,1759.1 631.9,1759.6 636.9,1756.6 639.9,1756.6 643.0,1757.2 646.1,1758.1 649.1,1757.2 652.2,1757.2 655.3,1758.1 658.4,1757.9 661.4,1757.9 664.5,1758.2 667.6,1758.3 670.6,1758.8 673.7,1759.6 676.7,1759.1 679.8,1759.0 682.8,1759.7 685.8,1758.8 688.8,1759.1 691.9,1758.4 694.9,1758.6 697.9,1757.9 700.9,1758.3 704.0,1757.7 707.0,1758.9 710.0,1758.5 713.0,1758.3 717.9,1760.8 721.0,1760.0 724.0,1760.4 727.0,1761.0 730.0,1759.3 733.1,1760.4 736.1,1759.5 739.1,1759.5 742.1,1759.9 745.2,1758.9 748.2,1758.9 751.2,1759.0 754.2,1759.4 757.2,1758.3 760.5,1759.3 763.8,1761.4 767.1,1762.0 770.4,1760.3 773.6,1758.2 776.9,1755.9 780.0,1755.1 783.0,1754.4 786.1,1753.2 789.2,1753.4 792.5,1753.3 795.7,1753.7 799.0,1755.4 802.3,1755.1 805.6,1755.5 808.8,1756.6 812.5,1754.9 816.2,1754.6 819.5,1755.7 822.8,1756.1 826.0,1755.9 831.0,1761.5 834.0,1761.7 837.1,1760.9 840.2,1760.8 843.2,1760.8 846.3,1761.0 849.4,1760.4 852.5,1760.8 855.5,1760.8 858.8,1760.4 862.1,1761.6 865.4,1761.6 868.6,1760.9 871.9,1760.3 875.2,1760.8 880.1,1763.3 883.8,1764.1 887.5,1762.9 891.2,1763.0 894.8,1763.3 900.0,1759.0 903.2,1757.8 906.3,1758.2 909.5,1758.1 912.6,1757.9 915.8,1757.7 918.9,1756.9 922.1,1757.1 925.2,1756.0 928.4,1756.2 931.5,1756.3 936.8,1761.1 940.2,1759.7 943.6,1759.5 946.9,1758.2 950.3,1757.5 953.7,1757.3 957.1,1756.5 960.5,1756.3 963.7,1757.2 967.0,1757.7 970.3,1758.8 973.6,1759.0 976.7,1759.0 979.7,1758.9 982.8,1759.0 985.9,1757.9 988.9,1757.6 992.0,1757.7 995.1,1758.8 998.1,1757.6 1001.2,1759.0 1004.3,1759.1 1007.3,1758.4 1010.4,1759.5 1013.7,1760.3 1017.0,1760.6 1020.3,1760.3 1023.6,1760.3 1026.8,1761.7 1030.1,1762.8 1033.4,1762.6 1036.7,1764.2 1040.2,1762.1 1043.7,1759.9 1047.2,1757.7 1050.6,1758.5 1054.0,1758.7 1057.4,1759.0 1060.7,1758.9 1064.1,1759.7 1067.5,1759.6 1070.9,1759.5 1074.2,1759.7 1077.4,1758.8 1080.7,1758.3 1084.0,1759.0 1087.1,1757.7 1090.2,1757.4 1093.2,1756.3 1096.3,1756.9 1099.4,1755.8 1102.4,1755.0 1105.9,1757.9 1109.4,1760.5 1112.9,1762.9 1116.0,1762.5 1119.1,1761.4 1122.1,1759.8 1125.2,1760.5 1128.3,1759.6 1131.3,1758.5 1134.6,1758.6 1137.9,1758.8 1141.2,1759.1 1144.5,1758.2 1147.8,1759.5 1151.1,1758.8 1154.3,1758.6 1157.6,1759.5 1161.1,1760.2 1164.6,1762.2 1168.1,1762.9 1171.6,1761.1 1175.1,1760.7 1178.7,1759.0 1182.2,1759.7 1185.7,1758.6 1189.2,1758.5 1192.7,1759.7 1196.2,1761.4 1199.7,1762.9 1203.9,1760.6 1208.2,1757.7" fill="none" stroke="#8a8a8a" stroke-width="0.8"/>
<line x1="1208.5" y1="10.0" x2="1208.5" y2="1757.7" stroke="#8a8a8a" stroke-width="1"/>
</svg>
</body></html>
